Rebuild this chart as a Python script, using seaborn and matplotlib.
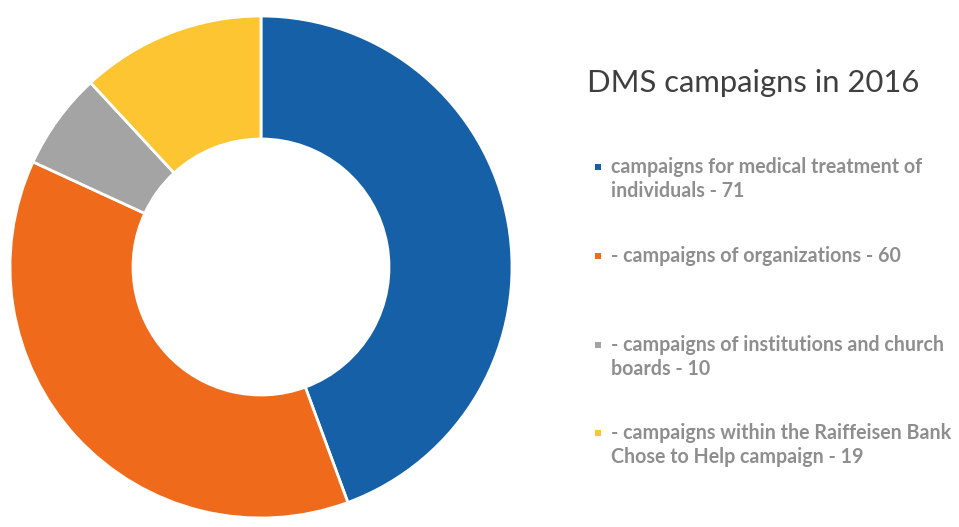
import matplotlib
matplotlib.use("Agg")
import matplotlib.pyplot as plt
from matplotlib.patches import Rectangle
import seaborn as sns

# data
categories = [
    "campaigns for medical treatment of\nindividuals - 71",
    "- campaigns of organizations - 60",
    "- campaigns of institutions and church\nboards - 10",
    "- campaigns within the Raiffeisen Bank\nChose to Help campaign - 19",
]
counts = [71, 60, 10, 19]
colors = ["#1660a7", "#f06a1b", "#a4a4a4", "#fdc532"]
title = "DMS campaigns in 2016"

sns.set_style("white")
plt.rcParams["font.family"] = ["Lato", "DejaVu Sans"]

fig = plt.figure(figsize=(9.59, 5.27), dpi=100)
ax = fig.add_axes([10 / 959, 9 / 527, 502 / 959, 502 / 527])

ax.pie(counts, colors=colors, startangle=90, counterclock=False,
       wedgeprops=dict(width=0.49, edgecolor="white", linewidth=2))
ax.set_xlim(-1, 1)
ax.set_ylim(-1, 1)
ax.set_aspect("equal")
ax.axis("off")

# title and legend on the right
fig.text(587 / 959, 1 - 83 / 527, title, fontsize=22.3, color="#3f3f3f", va="center")

tops = [167, 256, 345, 433]
for label, col, y in zip(categories, colors, tops):
    fig.add_artist(Rectangle((595 / 959, 1 - (y + 3) / 527), 6 / 959, 6 / 527,
                             transform=fig.transFigure, color=col, lw=0))
    fig.text(611 / 959, 1 - (y - 10) / 527, label, fontsize=14.1, fontweight="bold",
             color="#8e8e8e", va="top", linespacing=1.25)

fig.savefig("out.png", dpi=100)
